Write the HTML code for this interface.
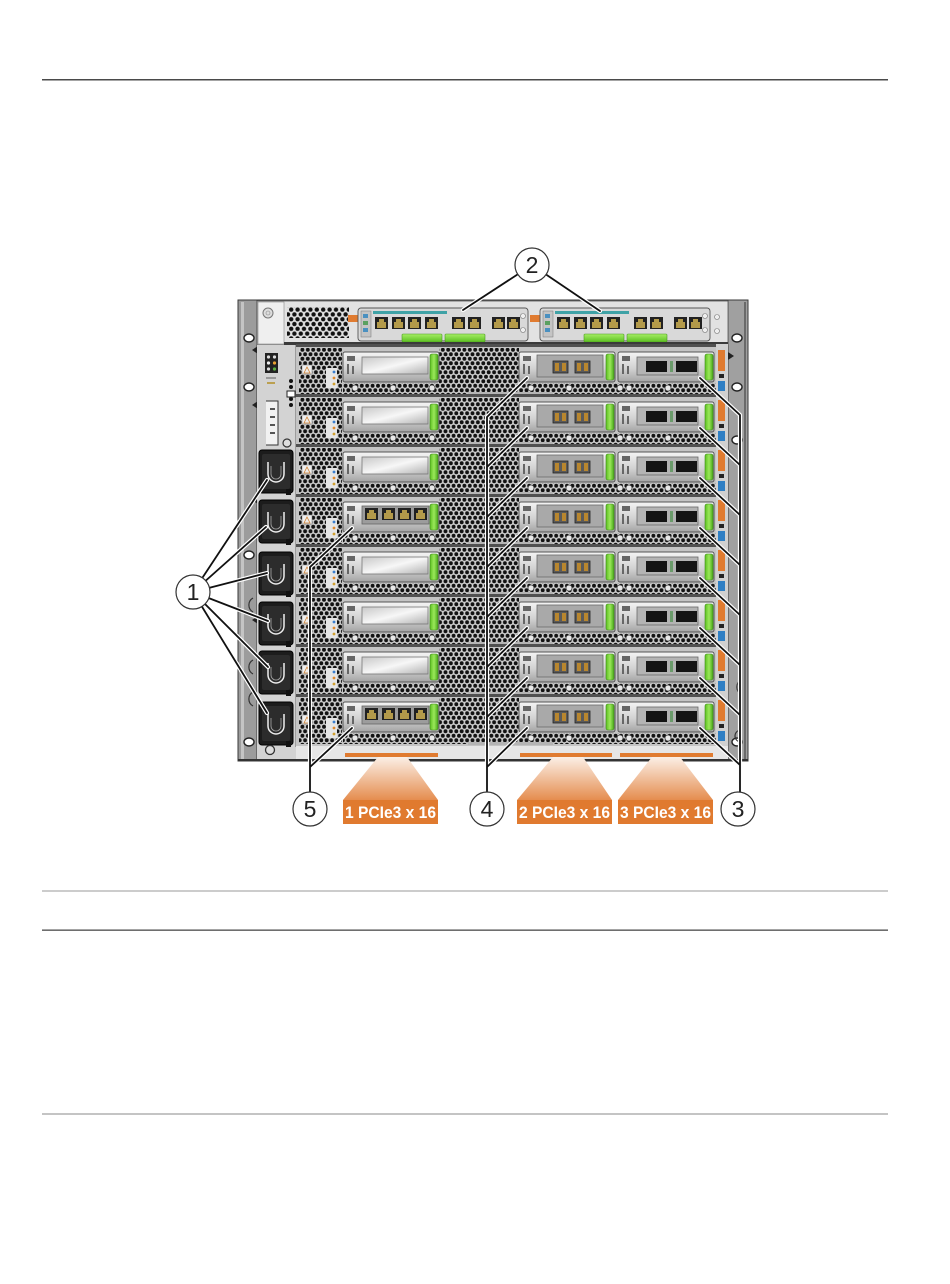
<!DOCTYPE html>
<html><head><meta charset="utf-8"><style>
html,body{margin:0;padding:0;background:#fff;}
body{width:950px;height:1284px;position:relative;overflow:hidden;}
svg{position:absolute;left:0;top:0;}
</style></head><body>
<svg width="950" height="1284" viewBox="0 0 950 1284">
<defs>
<pattern id="vent" width="5.4" height="9" patternUnits="userSpaceOnUse">
 <rect width="5.4" height="9" fill="#cfcfcf"/>
 <circle cx="2.7" cy="2.25" r="1.95" fill="#121212"/>
 <circle cx="0" cy="6.75" r="1.95" fill="#121212"/>
 <circle cx="5.4" cy="6.75" r="1.95" fill="#121212"/>
</pattern>
<pattern id="ventT" width="6.4" height="9.6" patternUnits="userSpaceOnUse">
 <rect width="6.4" height="9.6" fill="#e0e0e0"/>
 <circle cx="3.2" cy="2.4" r="2.2" fill="#111"/>
 <circle cx="0" cy="7.2" r="2.2" fill="#111"/>
 <circle cx="6.4" cy="7.2" r="2.2" fill="#111"/>
</pattern>
<linearGradient id="silver" x1="0" y1="0" x2="0" y2="1">
 <stop offset="0" stop-color="#f4f4f4"/><stop offset="0.55" stop-color="#d2d2d2"/><stop offset="1" stop-color="#a4a4a4"/>
</linearGradient>
<linearGradient id="win" x1="0" y1="0" x2="1" y2="1">
 <stop offset="0" stop-color="#c8c8c8"/><stop offset="0.5" stop-color="#f7f7f7"/><stop offset="1" stop-color="#b2b2b2"/>
</linearGradient>
<linearGradient id="tri" x1="0" y1="0" x2="0" y2="1">
 <stop offset="0" stop-color="#fbefe6"/><stop offset="1" stop-color="#e58d4f"/>
</linearGradient>
<linearGradient id="grn" x1="0" y1="0" x2="1" y2="0">
 <stop offset="0" stop-color="#5cc021"/><stop offset="0.5" stop-color="#9be85a"/><stop offset="1" stop-color="#4aa81a"/>
</linearGradient>
<linearGradient id="grn2" x1="0" y1="0" x2="0" y2="1">
 <stop offset="0" stop-color="#a6ee66"/><stop offset="1" stop-color="#5cbf22"/>
</linearGradient>
<g id="rj">
 <rect x="0" y="0" width="13" height="12" fill="#222"/>
 <rect x="2" y="5" width="9" height="6" fill="#b39a4a"/>
 <rect x="4" y="2" width="5" height="3.5" fill="#b39a4a"/>
</g>
<g id="row">
 <rect x="296" y="-8" width="420" height="52" fill="#c4c4c4"/>
 <rect x="296" y="-8" width="420" height="3" fill="#505050"/>
 <rect x="299" y="-4" width="43" height="46" fill="url(#vent)"/>
 <rect x="439" y="-4" width="80" height="35" fill="url(#vent)"/>
 <rect x="343" y="31" width="373" height="11" fill="url(#vent)"/>
 <g fill="#e8e8e8" stroke="#444" stroke-width="0.8">
  <circle cx="355" cy="36" r="3"/><circle cx="393" cy="36" r="3"/><circle cx="432" cy="36" r="3"/>
  <circle cx="531" cy="36" r="3"/><circle cx="569" cy="36" r="3"/><circle cx="620" cy="36" r="3"/><circle cx="629" cy="36" r="3"/><circle cx="668" cy="36" r="3"/>
 </g>
 <rect x="468" y="40" width="85" height="3" fill="#b4b4b4"/>
 <rect x="302" y="13" width="10" height="9" fill="#eee" stroke="#777" stroke-width="0.5"/>
 <path d="M304 21 L307 15 L310 21 Z" fill="none" stroke="#d08030" stroke-width="0.8"/>
 <rect x="326" y="16" width="11" height="20" fill="#e6e6e6"/>
 <circle cx="334" cy="20" r="1.4" fill="#3a7fd0"/><circle cx="334" cy="26" r="1.4" fill="#e08a30"/><circle cx="334" cy="32" r="1.4" fill="#d0a030"/>
 <rect x="343" y="0" width="96" height="30" rx="2" fill="url(#silver)" stroke="#555"/>
 <rect x="519" y="0" width="96" height="30" rx="2" fill="url(#silver)" stroke="#555"/>
 <rect x="618" y="0" width="96" height="30" rx="2" fill="url(#silver)" stroke="#555"/>
 <g fill="#666">
  <rect x="347" y="4" width="8" height="5"/><rect x="347" y="12" width="2" height="10"/><rect x="352" y="14" width="2" height="8"/>
  <rect x="523" y="4" width="8" height="5"/><rect x="523" y="12" width="2" height="10"/><rect x="528" y="14" width="2" height="8"/>
  <rect x="622" y="4" width="8" height="5"/><rect x="622" y="12" width="2" height="10"/><rect x="627" y="14" width="2" height="8"/>
 </g>
 <rect x="430" y="2" width="8" height="26" rx="2" fill="url(#grn)" stroke="#3c8a16" stroke-width="0.6"/>
 <rect x="606" y="2" width="8" height="26" rx="2" fill="url(#grn)" stroke="#3c8a16" stroke-width="0.6"/>
 <rect x="705" y="2" width="8" height="26" rx="2" fill="url(#grn)" stroke="#3c8a16" stroke-width="0.6"/>
 <rect x="537" y="3" width="66" height="22" fill="#a9a9a9" stroke="#6a6a6a" stroke-width="0.8"/>
 <rect x="553" y="9" width="15" height="12" fill="#5a5a5a" stroke="#222" stroke-width="0.8"/>
 <rect x="555" y="11" width="4" height="8" fill="#b8862e"/><rect x="562" y="11" width="4" height="8" fill="#b8862e"/>
 <rect x="575" y="9" width="15" height="12" fill="#5a5a5a" stroke="#222" stroke-width="0.8"/>
 <rect x="577" y="11" width="4" height="8" fill="#b8862e"/><rect x="584" y="11" width="4" height="8" fill="#b8862e"/>
 <rect x="637" y="5" width="61" height="18" fill="#b4b4b4" stroke="#6a6a6a" stroke-width="0.8"/>
 <rect x="646" y="9" width="21" height="11" fill="#141414"/>
 <rect x="676" y="9" width="21" height="11" fill="#141414"/>
 <rect x="670" y="9" width="3" height="11" fill="#6a9a6a"/>
 <rect x="716" y="-8" width="12" height="52" fill="#d0d0d0"/>
 <rect x="718" y="-2" width="7" height="21" fill="#e07b30"/>
 <rect x="719" y="22" width="5" height="4" fill="#222"/>
 <rect x="718" y="29" width="7" height="10" fill="#2f7fc4"/>
</g>
<g id="blank"><rect x="362" y="5" width="66" height="17" fill="url(#win)" stroke="#777" stroke-width="0.8"/></g>
<g id="ports4">
 <rect x="362" y="4" width="67" height="18" fill="#9c9c9c" stroke="#666" stroke-width="0.8"/>
 <use href="#rj" x="365" y="6"/><use href="#rj" x="382" y="6"/><use href="#rj" x="398" y="6"/><use href="#rj" x="414" y="6"/>
</g>
<g id="nem">
 <rect x="348" y="315" width="10" height="7" fill="#e07b30"/>
 <rect x="358" y="308" width="170" height="33" rx="3" fill="#d9d9d9" stroke="#555" stroke-width="0.9"/>
 <rect x="361" y="311" width="10" height="26" fill="#c4c4c4" stroke="#777" stroke-width="0.5"/>
 <rect x="363" y="314" width="5" height="4" fill="#4a90c0"/>
 <rect x="363" y="321" width="5" height="4" fill="#5aa060"/>
 <rect x="363" y="328" width="5" height="4" fill="#4a90c0"/>
 <rect x="373" y="311" width="74" height="3" fill="#3fa2a6"/>
 <use href="#rj" x="375" y="317"/><use href="#rj" x="392" y="317"/><use href="#rj" x="408" y="317"/><use href="#rj" x="425" y="317"/>
 <use href="#rj" x="452" y="317"/><use href="#rj" x="468" y="317"/>
 <use href="#rj" x="492" y="317"/><use href="#rj" x="507" y="317"/>
 <rect x="402" y="334" width="40" height="8" rx="1" fill="url(#grn2)" stroke="#4a9a20" stroke-width="0.6"/>
 <rect x="445" y="334" width="40" height="8" rx="1" fill="url(#grn2)" stroke="#4a9a20" stroke-width="0.6"/>
 <circle cx="523" cy="316" r="2.5" fill="#eee" stroke="#777" stroke-width="0.6"/>
 <circle cx="523" cy="330" r="2.5" fill="#eee" stroke="#777" stroke-width="0.6"/>
</g>
</defs>

<!-- page rules -->
<rect x="42" y="79" width="846" height="1.5" fill="#4a4a4a"/>
<rect x="42" y="890.5" width="846" height="1" fill="#9a9a9a"/>
<rect x="42" y="929.5" width="846" height="1.3" fill="#4a4a4a"/>
<rect x="42" y="1113.5" width="846" height="1" fill="#8a8a8a"/>

<!-- chassis -->
<rect x="238" y="300" width="510" height="461" fill="#c8c8c8" stroke="#333" stroke-width="1"/>
<rect x="238" y="300" width="19" height="461" fill="#9c9c9c" stroke="#3a3a3a" stroke-width="1"/>
<rect x="241" y="302" width="3" height="457" fill="#c4c4c4"/>
<rect x="728" y="300" width="20" height="461" fill="#a0a0a0" stroke="#3a3a3a" stroke-width="1"/>
<rect x="744" y="302" width="2" height="457" fill="#6a6a6a"/>
<g fill="#fff" stroke="#222" stroke-width="1.4">
 <ellipse cx="249" cy="338" rx="5" ry="4"/><ellipse cx="249" cy="387" rx="5" ry="4"/>
 <ellipse cx="249" cy="555" rx="5" ry="4"/><ellipse cx="249" cy="742" rx="5" ry="4"/>
 <ellipse cx="737" cy="338" rx="5" ry="4"/><ellipse cx="737" cy="387" rx="5" ry="4"/>
 <ellipse cx="737" cy="440" rx="5" ry="4"/><ellipse cx="737" cy="742" rx="5" ry="4"/>
</g>
<g fill="none" stroke="#333" stroke-width="1.2">
 <path d="M253 598 a8 8 0 0 0 0 14"/><path d="M253 660 a8 8 0 0 0 0 14"/><path d="M253 692 a8 8 0 0 0 0 14"/>
 <path d="M741 680 a8 8 0 0 0 0 14"/><path d="M741 730 a6 6 0 0 0 0 12"/>
</g>
<g fill="#222">
 <path d="M258 346 L252 350 L258 354 Z"/><path d="M258 401 L252 405 L258 409 Z"/>
 <path d="M258 496 L252 500 L258 504 Z"/><path d="M258 616 L252 620 L258 624 Z"/>
 <path d="M728 352 L734 356 L728 360 Z"/>
</g>

<!-- top band -->
<rect x="257" y="301" width="471" height="44" fill="#e2e2e2" stroke="#555" stroke-width="0.8"/>
<rect x="258" y="302" width="26" height="42" fill="#efefef" stroke="#888" stroke-width="0.6"/>
<circle cx="268" cy="313" r="5" fill="#ddd" stroke="#777"/>
<circle cx="268" cy="313" r="2" fill="none" stroke="#888" stroke-width="0.6"/>
<rect x="287" y="307" width="62" height="31" fill="url(#ventT)"/>
<use href="#nem"/>
<use href="#nem" x="182"/>
<circle cx="717" cy="317" r="2.5" fill="#eee" stroke="#777" stroke-width="0.6"/>
<circle cx="717" cy="331" r="2.5" fill="#eee" stroke="#777" stroke-width="0.6"/>
<rect x="284" y="342" width="444" height="3" fill="#3a3a3a"/>

<!-- left column -->
<rect x="257" y="345" width="39" height="415" fill="#d3d3d3"/>
<rect x="295.5" y="345" width="1" height="402" fill="#666"/>
<rect x="265" y="353" width="13" height="20" fill="#222"/>
<circle cx="268.5" cy="357" r="1.6" fill="#ddd"/><circle cx="274.5" cy="357" r="1.6" fill="#ddd"/>
<circle cx="268.5" cy="363" r="1.6" fill="#eee"/><circle cx="274.5" cy="363" r="1.6" fill="#e8a030"/>
<circle cx="268.5" cy="369" r="1.6" fill="#ddd"/><circle cx="274.5" cy="369" r="1.6" fill="#5cb040"/>
<rect x="266" y="377" width="10" height="2" fill="#999"/><rect x="267" y="382" width="8" height="2" fill="#bba050"/>
<path d="M266 401 h12 v44 h-12" fill="#f2f2f2" stroke="#333" stroke-width="1"/>
<g fill="#555"><rect x="270" y="408" width="5" height="2"/><rect x="270" y="416" width="5" height="2"/><rect x="270" y="424" width="5" height="2"/><rect x="270" y="432" width="5" height="2"/></g>
<g fill="#111"><circle cx="291" cy="381" r="2"/><circle cx="291" cy="387" r="2"/><circle cx="291" cy="399" r="2"/><circle cx="291" cy="405" r="2"/></g>
<rect x="287" y="391" width="8" height="6" fill="#fff" stroke="#222"/>
<circle cx="287" cy="443" r="4" fill="#ddd" stroke="#333" stroke-width="1.2"/>

<!-- PSUs -->
<g id="psu">
 <rect x="259" y="450" width="34" height="43" rx="3" fill="#1c1c1c" stroke="#000"/>
 <rect x="262" y="454" width="28" height="35" rx="2" fill="#2c2c2c"/>
 <path d="M268 462 v12 a8 8 0 0 0 16 0 v-12" fill="none" stroke="#eee" stroke-width="1.5"/>
 <path d="M271 466 v8 a5 5 0 0 0 10 0 v-8" fill="none" stroke="#aaa" stroke-width="0.8"/>
 <rect x="286" y="489" width="5" height="6" fill="#111"/>
</g>
<use href="#psu" y="50"/>
<use href="#psu" y="102"/>
<use href="#psu" y="152"/>
<use href="#psu" y="201"/>
<use href="#psu" y="252"/>
<circle cx="270" cy="750" r="4.5" fill="#ddd" stroke="#333" stroke-width="1.3"/>

<!-- rows -->
<use href="#row" y="352"/><use href="#blank" y="352"/>
<use href="#row" y="402"/><use href="#blank" y="402"/>
<use href="#row" y="452"/><use href="#blank" y="452"/>
<use href="#row" y="502"/><use href="#ports4" y="502"/>
<use href="#row" y="552"/><use href="#blank" y="552"/>
<use href="#row" y="602"/><use href="#blank" y="602"/>
<use href="#row" y="652"/><use href="#blank" y="652"/>
<use href="#row" y="702"/><use href="#ports4" y="702"/>

<!-- bottom strip -->
<rect x="296" y="746" width="432" height="13" fill="#e6e6e6"/>
<rect x="345" y="753" width="93" height="4" fill="#e07b30"/>
<rect x="520" y="753" width="92" height="4" fill="#e07b30"/>
<rect x="620" y="753" width="93" height="4" fill="#e07b30"/>
<rect x="238" y="759" width="510" height="2" fill="#333"/>

<!-- trapezoids and labels -->
<polygon points="378,757 407,757 438,800 343,800" fill="url(#tri)"/>
<polygon points="553,757 583,757 612,800 517,800" fill="url(#tri)"/>
<polygon points="652,757 680,757 713,800 618,800" fill="url(#tri)"/>
<rect x="343" y="800" width="95" height="24" fill="#e07a2f"/>
<rect x="517" y="800" width="95" height="24" fill="#e07a2f"/>
<rect x="618" y="800" width="95" height="24" fill="#e07a2f"/>
<g font-family="Liberation Sans, Arial, sans-serif" font-weight="bold" font-size="17" fill="#fff" text-anchor="middle">
 <text x="390.5" y="818" textLength="91" lengthAdjust="spacingAndGlyphs">1 PCIe3 x 16</text>
 <text x="564.5" y="818" textLength="91" lengthAdjust="spacingAndGlyphs">2 PCIe3 x 16</text>
 <text x="665.5" y="818" textLength="91" lengthAdjust="spacingAndGlyphs">3 PCIe3 x 16</text>
</g>

<!-- callout lines -->
<g fill="none" stroke-linecap="round">
<g stroke="#fff" stroke-width="4.2">
 <path d="M193 592 L267 480 M193 592 L266 527 M193 592 L267 573 M193 592 L268 621 M193 592 L268 667 M193 592 L267 713"/>
 <path d="M532 265 L463 310 M532 265 L600 311"/>
 <path d="M740 415 V792 M700 378 L740 415 M700 428 L740 465 M700 478 L740 515 M700 528 L740 565 M700 578 L740 615 M700 628 L740 665 M700 678 L740 715 M700 728 L740 765"/>
 <path d="M487 417 V792 M527 378 L487 417 M527 428 L487 467 M527 478 L487 517 M527 528 L487 567 M527 578 L487 617 M527 628 L487 667 M527 678 L487 717 M527 728 L487 767"/>
 <path d="M310 567 V792 M352 528 L310 567 M352 728 L310 767"/>
</g>
<g stroke="#111" stroke-width="1.8">
 <path d="M193 592 L267 480 M193 592 L266 527 M193 592 L267 573 M193 592 L268 621 M193 592 L268 667 M193 592 L267 713"/>
 <path d="M532 265 L463 310 M532 265 L600 311"/>
 <path d="M740 415 V792 M700 378 L740 415 M700 428 L740 465 M700 478 L740 515 M700 528 L740 565 M700 578 L740 615 M700 628 L740 665 M700 678 L740 715 M700 728 L740 765"/>
 <path d="M487 417 V792 M527 378 L487 417 M527 428 L487 467 M527 478 L487 517 M527 528 L487 567 M527 578 L487 617 M527 628 L487 667 M527 678 L487 717 M527 728 L487 767"/>
 <path d="M310 567 V792 M352 528 L310 567 M352 728 L310 767"/>
</g>
</g>

<!-- callout circles -->
<g fill="#fff" stroke="#333" stroke-width="1.2">
 <circle cx="193" cy="592" r="17"/>
 <circle cx="532" cy="265" r="17"/>
 <circle cx="310" cy="809" r="17"/>
 <circle cx="487" cy="809" r="17"/>
 <circle cx="738" cy="809" r="17"/>
</g>
<g font-family="Liberation Sans, Arial, sans-serif" font-size="23" fill="#222" text-anchor="middle">
 <text x="193" y="600">1</text>
 <text x="532" y="273">2</text>
 <text x="310" y="817">5</text>
 <text x="487" y="817">4</text>
 <text x="738" y="817">3</text>
</g>
</svg>
</body></html>
